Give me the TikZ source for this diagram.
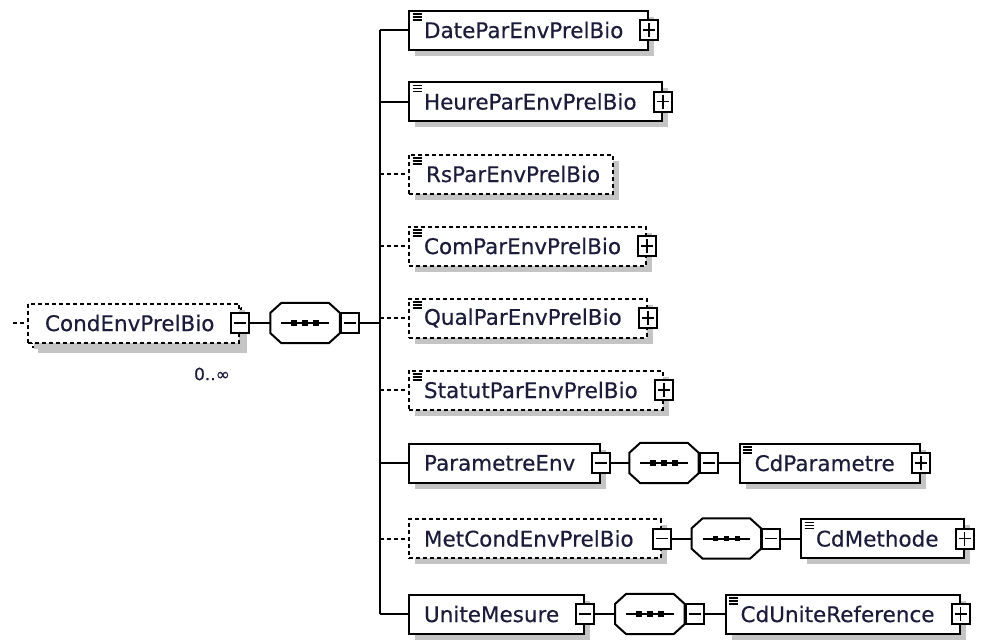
\documentclass[tikz,border=0pt]{standalone}
\usepackage{fontspec}
\newfontfamily\elfont[FakeBold=0.35]{DejaVu Sans}
\usetikzlibrary{positioning,shadows,calc}
\definecolor{ink}{HTML}{1B1B3A}
\definecolor{shd}{HTML}{C4C4C4}
% padding round a label: with expander / without expander
\newcommand{\pad}[1]{\hspace*{15pt}#1\hspace*{25pt}}
\newcommand{\padn}[1]{\hspace*{17pt}#1\hspace*{13pt}}
% octagon outline of a sequence node
\newcommand{\octpath}[1]{([xshift=11pt]#1.north west) -- ([xshift=-11pt]#1.north east)
  -- ([yshift=-10pt]#1.north east) -- ([yshift=10pt]#1.south east)
  -- ([xshift=-11pt]#1.south east) -- ([xshift=11pt]#1.south west)
  -- ([yshift=10pt]#1.south west) -- ([yshift=-10pt]#1.north west) -- cycle}
% octagon with shadow, line and three dots
\newcommand{\seqmark}[1]{%
  \fill[shd,shift={(6pt,-6pt)}] \octpath{#1};
  \filldraw[link,fill=white] \octpath{#1};
  \draw[link] ([xshift=11pt]#1.west) -- ([xshift=-11pt]#1.east);
  \foreach \dx in {-11,0,11}
    \fill ([xshift=\dx pt]#1.center) ++(-2.8pt,-2.8pt) rectangle ++(5.6pt,5.6pt);}
\tikzset{
  link/.style={line width=2pt,draw=black},
  optlink/.style={link,dash pattern=on 4pt off 3pt},
  elem/.style={draw=black,line width=2pt,fill=white,minimum height=39pt,inner sep=0pt,
    font=\elfont\fontsize{21.5}{26}\selectfont,text=ink,anchor=west,
    general shadow={fill=shd,shadow xshift=6pt,shadow yshift=-6pt}},
  optelem/.style={elem,dash pattern=on 4pt off 3pt},
  typed/.style={path picture={
    \foreach \k in {0,1,2}
      \draw[line width=1.5pt,solid] ([xshift=3.5pt,yshift={-(3.5+3*\k)*1pt}]path picture bounding box.north west) -- +(9pt,0pt);}},
  btn/.style={draw=black,line width=2pt,solid,fill=white,minimum width=18pt,minimum height=20pt,inner sep=0pt},
  minusbtn/.style={btn,path picture={
    \draw[line width=1.8pt] ([xshift=-6pt]path picture bounding box.center) -- ([xshift=6pt]path picture bounding box.center);}},
  plusbtn/.style={btn,path picture={
    \draw[line width=1.8pt] ([xshift=-6pt]path picture bounding box.center) -- ([xshift=6pt]path picture bounding box.center);
    \draw[line width=1.8pt] ([yshift=-7pt]path picture bounding box.center) -- ([yshift=7pt]path picture bounding box.center);}},
  seq/.style={rectangle,minimum width=69pt,minimum height=40pt,inner sep=0pt,anchor=west},
}

\begin{document}
\begin{tikzpicture}[x=1pt,y=-1pt]
\useasboundingbox (0,0) rectangle (983,641);
% root element (repeating)
\node[optelem] (rootbk) at (31,327) {\phantom{\pad{CondEnvPrelBio}}};
\node[optelem,general shadow={fill=none}] (root) at (27,323) {\hspace*{2pt}\pad{CondEnvPrelBio}};
\node[minusbtn] (rootx) at (root.east) {};
\node[seq,right=20pt of rootx] (rootseq) {};
\seqmark{rootseq}
\node[minusbtn,anchor=west] (rootseqx) at (rootseq.east) {};
\node[font=\elfont\fontsize{17}{20}\selectfont,text=ink] (occ) at (212,374) {0..∞};
\coordinate (in) at (13,323);
\coordinate (bus) at (380,323);
\draw[optlink] (in) -- (root.west);
\draw[link] (rootx.east) -- (rootseq.west);
\draw[link] (rootseqx.east) -- (bus);

% children of the sequence
\node[elem,typed] (date) at (408,30) {\pad{DateParEnvPrelBio}};
\node[plusbtn] (datex) at (date.east) {};
\node[elem,typed] (heure) at (408,101.5) {\pad{HeureParEnvPrelBio}};
\node[plusbtn] (heurex) at (heure.east) {};
\node[optelem,typed] (rs) at (408,174) {\padn{RsParEnvPrelBio}};
\node[optelem,typed] (com) at (408,246) {\pad{ComParEnvPrelBio}};
\node[plusbtn] (comx) at (com.east) {};
\node[optelem,typed] (qual) at (408,318) {\pad{QualParEnvPrelBio}};
\node[plusbtn] (qualx) at (qual.east) {};
\node[optelem,typed] (statut) at (408,390) {\pad{StatutParEnvPrelBio}};
\node[plusbtn] (statutx) at (statut.east) {};

\node[elem] (param) at (408,463) {\pad{ParametreEnv}};
\node[minusbtn] (paramx) at (param.east) {};
\node[seq,right=18pt of paramx] (paramseq) {};
\seqmark{paramseq}
\node[minusbtn,anchor=west] (paramseqx) at (paramseq.east) {};
\node[elem,typed,right=20pt of paramseqx] (cdparam) {\pad{CdParametre}};
\node[plusbtn] (cdparamx) at (cdparam.east) {};

\node[optelem] (metcond) at (408,538.5) {\pad{MetCondEnvPrelBio}\hspace*{2pt}};
\node[minusbtn] (metcondx) at (metcond.east) {};
\node[seq,right=20pt of metcondx] (metcondseq) {};
\seqmark{metcondseq}
\node[minusbtn,anchor=west] (metcondseqx) at (metcondseq.east) {};
\node[elem,typed,right=19pt of metcondseqx] (cdmeth) {\pad{CdMethode}};
\node[plusbtn] (cdmethx) at (cdmeth.east) {};

\node[elem] (unite) at (408,614) {\pad{UniteMesure}};
\node[minusbtn] (unitex) at (unite.east) {};
\node[seq,right=20pt of unitex] (uniteseq) {};
\seqmark{uniteseq}
\node[minusbtn,anchor=west] (uniteseqx) at (uniteseq.east) {};
\node[elem,typed,right=20pt of uniteseqx] (cdunite) {\pad{CdUniteReference}};
\node[plusbtn] (cdunitex) at (cdunite.east) {};

% bus and branches
\draw[link] (bus |- date.west) -- (bus |- unite.west);
\foreach \n in {date,heure,param,unite}
  \draw[link] (bus |- \n.west) -- (\n.west);
\foreach \n in {rs,com,qual,statut,metcond}
  \draw[optlink] (bus |- \n.west) -- (\n.west);
\draw[link] (paramx.east) -- (paramseq.west);
\draw[link] (paramseqx.east) -- (cdparam.west);
\draw[link] (metcondx.east) -- (metcondseq.west);
\draw[link] (metcondseqx.east) -- (cdmeth.west);
\draw[link] (unitex.east) -- (uniteseq.west);
\draw[link] (uniteseqx.east) -- (cdunite.west);
\end{tikzpicture}
\end{document}
